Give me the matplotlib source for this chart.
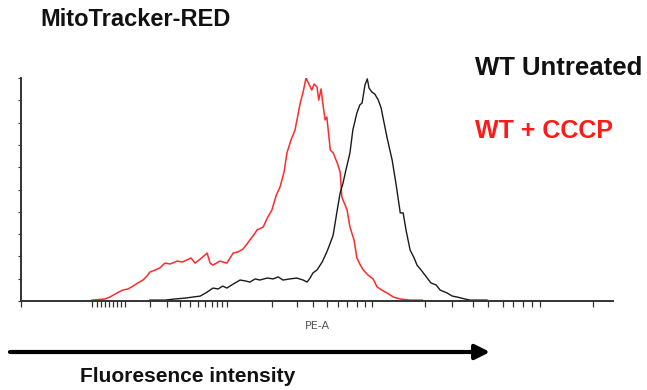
import matplotlib.pyplot as plt

# PE-A channel (0-1024) and % of max for each histogram
red_x = [123, 145, 154, 166, 176, 185, 194, 202, 211, 218, 223, 232, 240, 249, 258, 270,
         279, 287, 294, 301, 310, 322, 327, 332, 344, 356, 367, 375, 384, 391, 396, 405,
         408, 419, 426, 434, 441, 448, 455, 460, 467, 474, 479, 483, 488, 493, 498, 503,
         507, 512, 515, 519, 522, 526, 529, 535, 540, 547, 552, 555, 564, 569, 576, 581,
         586, 592, 600, 609, 616, 624, 633, 644, 656, 673, 694]
red_y = [0.4, 0.9, 1.8, 3.6, 4.9, 5.4, 6.7, 8.1, 9.4, 11.2, 13.0, 13.9, 14.8, 17.0, 16.6, 17.9,
         17.5, 18.4, 19.3, 17.0, 18.8, 21.5, 17.0, 16.1, 17.9, 17.0, 21.5, 22.0, 23.3, 25.6, 27.4, 30.5,
         31.8, 33.2, 37.2, 40.8, 47.1, 51.1, 57.8, 66.4, 72.2, 76.7, 83.4, 88.8, 93.7, 100, 97.3, 94.6,
         97.3, 96.0, 90.1, 95.1, 88.8, 81.2, 82.5, 67.7, 66.4, 61.9, 57.8, 46.6, 40.8, 33.2, 27.4, 19.3,
         16.6, 13.9, 11.7, 9.9, 6.3, 4.9, 3.6, 1.8, 0.9, 0.4, 0.4]

black_x = [223, 249, 266, 284, 298, 310, 322, 332, 341, 349, 356, 367, 379, 388, 396, 405,
           413, 426, 436, 445, 453, 465, 477, 488, 495, 500, 505, 512, 521, 529, 535, 540,
           547, 552, 557, 562, 569, 574, 581, 586, 590, 595, 599, 602, 607, 612, 618, 623,
           626, 633, 638, 642, 649, 656, 661, 666, 673, 680, 685, 692, 700, 709, 718, 725,
           737, 746, 754, 768, 777, 806]
black_y = [0.4, 0.4, 0.9, 1.3, 1.8, 2.2, 4.0, 5.8, 5.4, 6.7, 5.8, 7.6, 9.4, 9.0, 8.5, 9.9,
           9.4, 10.3, 9.9, 10.8, 9.4, 9.9, 10.3, 9.4, 8.5, 10.3, 12.6, 13.9, 17.5, 22.0, 26.0, 29.6,
           40.8, 48.4, 52.9, 58.7, 66.4, 76.7, 84.3, 87.9, 88.8, 96.9, 99.6, 95.5, 93.7, 92.8, 90.1, 86.5,
           82.5, 73.5, 67.7, 63.2, 52.0, 39.5, 39.5, 31.8, 22.9, 19.3, 16.1, 13.9, 11.2, 8.1, 7.2, 4.9,
           3.6, 2.2, 1.8, 0.9, 0.4, 0.4]

x_ticks = [0, 123, 131, 138, 145, 152, 159, 166, 173, 180, 223, 253, 275, 292, 306, 318,
           330, 339, 348, 356, 434, 477, 505, 529, 548, 564, 581, 595, 607, 699, 746, 782,
           808, 834, 851, 869, 884, 898, 989]
y_ticks = [0, 10, 20, 30, 40, 50, 60, 70, 80, 90, 100]

fig = plt.figure(figsize=(6.47, 3.9), dpi=100)
ax = fig.add_axes([21 / 647, 89 / 390, 592 / 647, 223 / 390])

ax.plot(red_x, red_y, color='#ff2a2a', lw=1.1)
ax.plot(black_x, black_y, color='#1a1a1a', lw=1.0)

ax.set_xlim(0, 1024)
ax.set_ylim(0, 100)
ax.set_xticks(x_ticks)
ax.set_yticks(y_ticks)
ax.set_xticklabels([])
ax.set_yticklabels([])
ax.tick_params(axis='x', direction='out', length=4, width=0.9, color='#333')
ax.tick_params(axis='y', direction='out', length=2.5, width=0.8, color='#333')
for s in ['top', 'right']:
    ax.spines[s].set_visible(False)
for s in ['left', 'bottom']:
    ax.spines[s].set_color('#333')
    ax.spines[s].set_linewidth(1.4)
ax.set_xlabel('PE-A', fontsize=8, color='#555', labelpad=7)

fig.text(40 / 647, 1 - 20 / 390, 'MitoTracker-RED', fontsize=17, fontweight='bold',
         family='Liberation Sans', va='center', ha='left', color='#111')
fig.text(475 / 647, 1 - 68 / 390, 'WT Untreated', fontsize=18.5, fontweight='bold',
         family='Liberation Sans', va='center', ha='left', color='#111')
fig.text(475 / 647, 1 - 131 / 390, 'WT + CCCP', fontsize=18, fontweight='bold',
         family='Liberation Sans', va='center', ha='left', color='#ff1a1a')

ax.annotate('', xy=(490 / 647, 1 - 352 / 390), xytext=(10 / 647, 1 - 352 / 390),
            xycoords='figure fraction', textcoords='figure fraction',
            arrowprops=dict(arrowstyle='-|>', lw=3, color='black', mutation_scale=22,
                            shrinkA=0, shrinkB=0))
fig.text(80 / 647, 1 - 377 / 390, 'Fluoresence intensity', fontsize=15, fontweight='bold',
         family='Liberation Sans', va='center', ha='left', color='#111')

fig.savefig('out.png', dpi=100)
